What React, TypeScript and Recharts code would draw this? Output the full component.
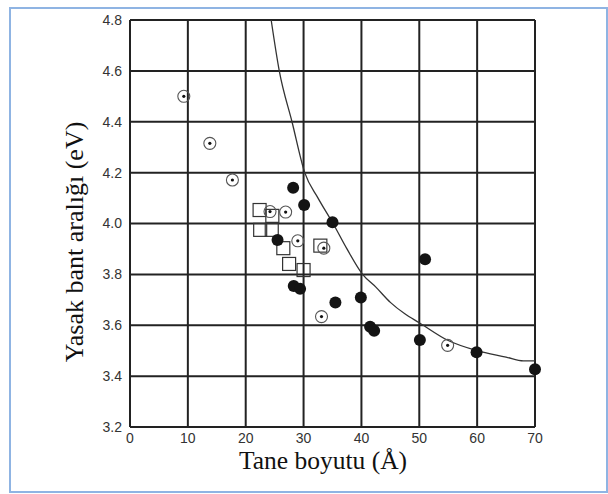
import {
  ComposedChart,
  Line,
  Scatter,
  CartesianGrid,
  XAxis,
  YAxis,
} from "recharts"

// tane boyutu (Å) / yasak bant aralığı (eV)
const filledX = [28.2, 30.1, 35.0, 25.5, 28.3, 29.4, 35.5, 39.9, 51.0, 41.5, 42.2, 50.1, 59.9, 70.0]
const filledY = [4.141, 4.073, 4.005, 3.935, 3.754, 3.743, 3.689, 3.709, 3.859, 3.594, 3.578, 3.542, 3.494, 3.427]

const dottedX = [9.3, 13.8, 17.7, 24.2, 26.9, 29.0, 33.5, 33.1, 54.9]
const dottedY = [4.5, 4.315, 4.171, 4.047, 4.045, 3.932, 3.903, 3.634, 3.521]

const squareX = [22.4, 24.6, 22.5, 24.5, 26.5, 27.5, 30.0, 32.9]
const squareY = [4.053, 4.03, 3.975, 3.975, 3.903, 3.841, 3.817, 3.913]

const curveX = [24.4, 25.8, 28.0, 30.2, 32.5, 35.1, 37.5, 40.2, 42.5, 45, 47.5, 50, 55, 60, 65, 68, 70]
const curveY = [4.8, 4.6, 4.4, 4.2, 4.1, 4.0, 3.9, 3.8, 3.75, 3.69, 3.645, 3.61, 3.54, 3.5, 3.475, 3.46, 3.46]

const xTicks = [0, 10, 20, 30, 40, 50, 60, 70]
const yTicks = [3.2, 3.4, 3.6, 3.8, 4.0, 4.2, 4.4, 4.6, 4.8]

const zip = (xs: number[], ys: number[]) => xs.map((x, i) => ({ x, y: ys[i] }))

const filled = zip(filledX, filledY)
const dotted = zip(dottedX, dottedY)
const squares = zip(squareX, squareY)
const curve = zip(curveX, curveY)

const FilledDot = (p: any) => <circle cx={p.cx} cy={p.cy} r={6} fill="#141414" />

const RingDot = (p: any) => (
  <g>
    <circle cx={p.cx} cy={p.cy} r={6} fill="none" stroke="#555" strokeWidth={1.1} />
    <circle cx={p.cx} cy={p.cy} r={1.6} fill="#111" />
  </g>
)

const Square = (p: any) => (
  <rect x={p.cx - 6.5} y={p.cy - 6.5} width={13} height={13} fill="none" stroke="#333" strokeWidth={1.2} />
)

const tickStyle = { fontFamily: "Liberation Sans, Arial, sans-serif", fontSize: 14, fill: "#333" }
const titleFont = "Liberation Serif, Times New Roman, serif"

export default function App() {
  return (
    <div style={{ position: "absolute", left: 0, top: 0, width: 608, height: 494, background: "#fff" }}>
      <div
        style={{
          position: "absolute",
          left: 9,
          top: 7,
          width: 599,
          height: 486,
          boxSizing: "border-box",
          border: "2px solid #8fb4e3",
        }}
      />
      <ComposedChart
        width={608}
        height={494}
        margin={{ top: 20, right: 73, bottom: 37, left: 90 }}
        style={{ position: "absolute", left: 0, top: 0 }}
      >
        <CartesianGrid stroke="#222" strokeWidth={2} />
        <XAxis
          dataKey="x"
          type="number"
          domain={[0, 70]}
          ticks={xTicks}
          height={30}
          tickLine={false}
          tickSize={5}
          tickMargin={1}
          axisLine={{ stroke: "#222", strokeWidth: 2 }}
          tick={tickStyle}
          label={{
            content: () => (
              <text x={323} y={469} textAnchor="middle" fontFamily={titleFont} fontSize={25.5} fill="#111">
                Tane boyutu (Å)
              </text>
            ),
          }}
        />
        <YAxis
          dataKey="y"
          type="number"
          domain={[3.2, 4.8]}
          ticks={yTicks}
          width={40}
          tickLine={false}
          tickFormatter={(v: number) => v.toFixed(1)}
          axisLine={{ stroke: "#222", strokeWidth: 2 }}
          tick={tickStyle}
          label={{
            content: () => (
              <text
                x={83}
                y={242}
                transform="rotate(-90 83 242)"
                textAnchor="middle"
                fontFamily={titleFont}
                fontSize={26}
                fill="#111"
              >
                Yasak bant aralığı (eV)
              </text>
            ),
          }}
        />
        <Line
          data={curve}
          dataKey="y"
          type="monotone"
          stroke="#333"
          strokeWidth={1.3}
          dot={false}
          activeDot={false}
          isAnimationActive={false}
        />
        <Scatter data={squares} dataKey="y" shape={Square} isAnimationActive={false} />
        <Scatter data={dotted} dataKey="y" shape={RingDot} isAnimationActive={false} />
        <Scatter data={filled} dataKey="y" shape={FilledDot} isAnimationActive={false} />
      </ComposedChart>
    </div>
  )
}
